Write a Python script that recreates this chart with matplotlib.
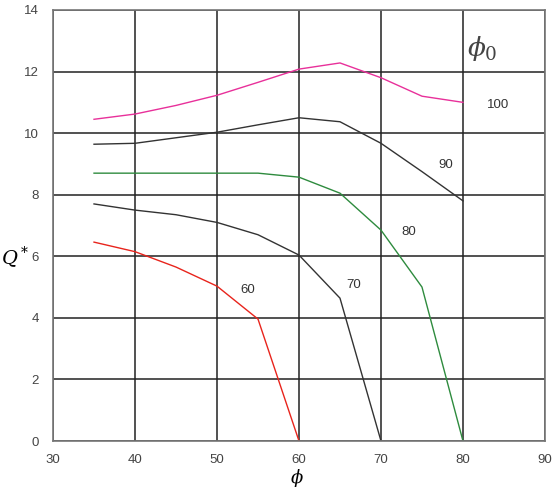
import matplotlib.pyplot as plt

plt.rcParams['font.family'] = ['Liberation Sans', 'DejaVu Sans']
plt.rcParams['mathtext.fontset'] = 'dejavuserif'

phi = [35, 40, 45, 50, 55, 60, 65, 70, 75, 80]

q_100 = [10.45, 10.62, 10.9, 11.23, 11.65, 12.08, 12.28, 11.8, 11.2, 11.0]
q_90 = [9.64, 9.67, 9.85, 10.03, 10.27, 10.5, 10.37, 9.67, 8.75, 7.8]
q_80 = [8.7, 8.7, 8.7, 8.7, 8.7, 8.57, 8.05, 6.85, 5.0, 0.0]
q_70 = [7.7, 7.5, 7.35, 7.1, 6.7, 6.04, 4.64, 0.0]
q_60 = [6.46, 6.15, 5.65, 5.03, 3.96, 0.0]

curves = [
    (q_100, '#e8309a', '100', (84.3, 10.9)),
    (q_90, '#333333', '90', (77.9, 8.96)),
    (q_80, '#2e8b3e', '80', (73.4, 6.8)),
    (q_70, '#333333', '70', (66.7, 5.06)),
    (q_60, '#e8241c', '60', (53.7, 4.9)),
]

fig = plt.figure(figsize=(5.54, 4.9), dpi=100)
ax = fig.add_axes([0.0957, 0.1, 0.888, 0.8796])

for q, col, lab, pos in curves:
    ax.plot(phi[:len(q)], q, color=col, lw=1.0)
    ax.text(pos[0], pos[1], lab, fontsize=9.5, color='#333333',
            ha='center', va='center')

ax.text(82.4, 12.76, r'$\phi_0$', fontsize=19, color='#444444',
        ha='center', va='center')

ax.set_xlim(30, 90)
ax.set_ylim(0, 14)
ax.set_xticks(range(30, 91, 10))
ax.set_yticks(range(0, 15, 2))
ax.grid(True, color='#222222', lw=1.1)
ax.tick_params(length=0, labelsize=9.5, colors='#444444')
ax.tick_params(axis='x', pad=9)
ax.tick_params(axis='y', pad=10)
for s in ax.spines.values():
    s.set_color('#777777')
    s.set_linewidth(1.2)

fig.text(0.002, 0.475, r'$Q^*$', fontsize=14, ha='left', va='center')
fig.text(0.536, 0.002, r'$\phi$', fontsize=13, ha='center', va='bottom')

fig.savefig('out.png', dpi=100)
